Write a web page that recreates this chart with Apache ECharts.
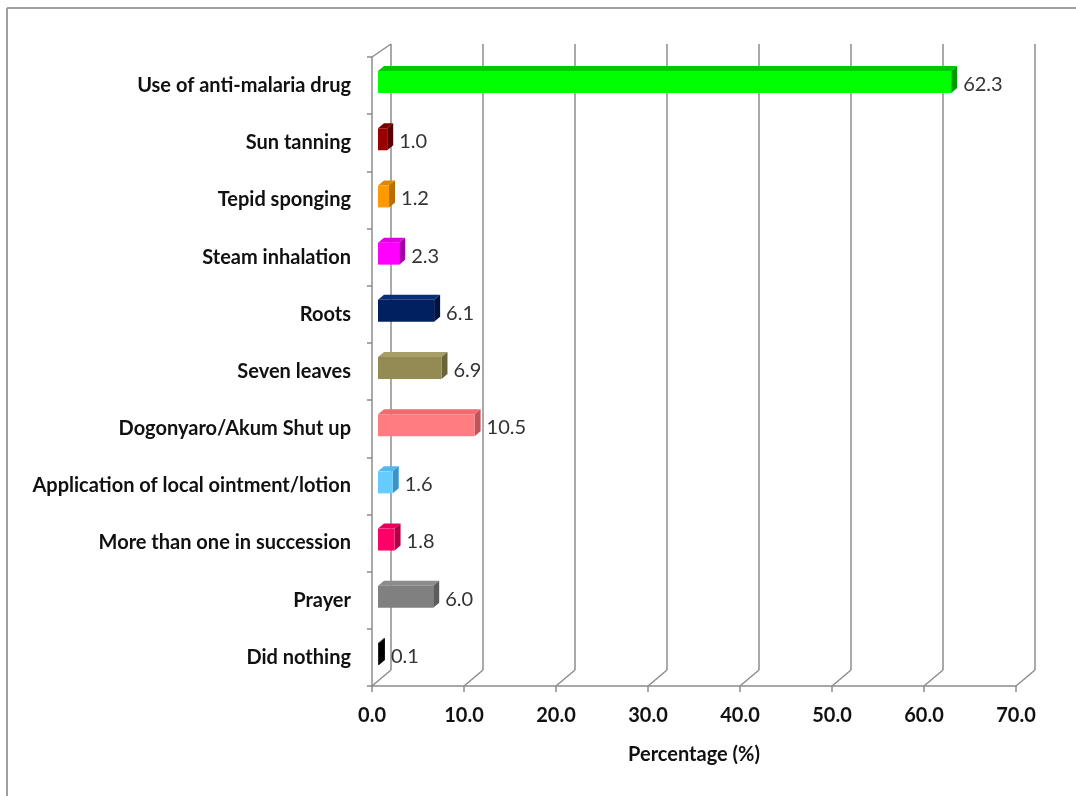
<!doctype html>
<html>
<head>
<meta charset="utf-8">
<title>Percentage chart</title>
<script src="https://cdn.jsdelivr.net/npm/echarts@6/dist/echarts.min.js"></script>
</head>
<body style="margin:0;padding:0;background:#fff;">
<div id="tb" style="width:1076px;height:796px;"></div>
<script>
// categories top to bottom
var categories = ['Use of anti-malaria drug', 'Sun tanning', 'Tepid sponging', 'Steam inhalation', 'Roots',
    'Seven leaves', 'Dogonyaro/Akum Shut up', 'Application of local ointment/lotion',
    'More than one in succession', 'Prayer', 'Did nothing'];
var values = [62.3, 1.0, 1.2, 2.3, 6.1, 6.9, 10.5, 1.6, 1.8, 6.0, 0.1];
var ticks = [0, 10, 20, 30, 40, 50, 60, 70];

// face / top / side colours for every bar
var faceColors = ['#00ff00', '#990000', '#ff9900', '#ff00ff', '#002060', '#948a54', '#ff7c80', '#66ccff', '#ff0066', '#808080', '#222222'];
var topColors  = ['#00c800', '#7a0000', '#e08600', '#e000e0', '#0a2d78', '#a79d66', '#f06a6e', '#52b8ee', '#e6005c', '#8c8c8c', '#333333'];
var sideColors = ['#009a00', '#5a0000', '#b86e00', '#a800a8', '#001440', '#6b6338', '#c05458', '#3a94c8', '#b00048', '#5c5c5c', '#000000'];

var gridColor = '#8c8c8c';
var DX = 19, DYB = -16, DYT = -13; // wall depth
var BD = 6, BDY = -5;               // bar depth

var chart = echarts.init(document.getElementById('tb'));

// bars drawn as boxes
function renderBar(params, api) {
    var v = api.value(0), i = api.value(1);
    var p0 = api.coord([0, i]);
    var p1 = api.coord([v, i]);
    var c = p0[1];
    var x0 = p0[0] + 6, x1 = p1[0] + 6;
    var yt = c - 14.5, yb = c + 7.5;
    return {
        type: 'group',
        children: [
            { type: 'polygon', shape: { points: [[x0, yt], [x0 + BD, yt + BDY], [x1 + BD, yt + BDY], [x1, yt]] },
              style: { fill: topColors[i] } },
            { type: 'polygon', shape: { points: [[x1, yt], [x1 + BD, yt + BDY], [x1 + BD, yb + BDY], [x1, yb]] },
              style: { fill: sideColors[i] } },
            { type: 'rect', shape: { x: x0, y: yt, width: Math.max(x1 - x0, 1), height: yb - yt },
              style: { fill: faceColors[i] } },
            { type: 'text', x: x1 + 12, y: c - 1,
              style: { text: v.toFixed(1), fill: '#333', font: '20px Lato', verticalAlign: 'middle', align: 'left' } }
        ]
    };
}

// diagonal lines joining front axis to back wall
function renderFloor(params, api) {
    var v = api.value(0);
    var cs = params.coordSys;
    var x = api.coord([v, 0])[0];
    var yb = cs.y + cs.height;
    var children = [
        { type: 'line', shape: { x1: x, y1: yb, x2: x + DX, y2: yb + DYB },
          style: { stroke: gridColor, lineWidth: 1.5 } }
    ];
    if (v === 0) {
        children.push({ type: 'line', shape: { x1: x, y1: cs.y, x2: x + DX, y2: cs.y + DYT },
            style: { stroke: gridColor, lineWidth: 1.5 } });
    }
    return { type: 'group', children: children };
}

var barData = values.map(function (v, i) { return [v, i]; });
var tickData = ticks.map(function (t) { return [t, 0]; });

chart.setOption({
    animation: false,
    backgroundColor: '#fff',
    textStyle: { fontFamily: 'Lato' },
    graphic: [
        { type: 'line', shape: { x1: 7, y1: 8, x2: 7, y2: 796 }, style: { stroke: '#a0a0a0', lineWidth: 2 } },
        { type: 'line', shape: { x1: 7, y1: 8, x2: 1076, y2: 8 }, style: { stroke: '#a0a0a0', lineWidth: 2 } }
    ],
    grid: [
        { left: 372, right: 60, top: 57, bottom: 110 },
        { left: 391, right: 41, top: 44, bottom: 126 }
    ],
    xAxis: [{
        type: 'value', gridIndex: 0, min: 0, max: 70, interval: 10,
        axisLine: { show: true, lineStyle: { color: gridColor, width: 1.5 } },
        axisTick: { show: true, length: 6, lineStyle: { color: gridColor, width: 1.5 } },
        splitLine: { show: false },
        axisLabel: { margin: 20, color: '#111', fontWeight: 'bold', fontSize: 20, fontFamily: 'Lato',
            formatter: function (v) { return v.toFixed(1); } },
        name: 'Percentage (%)', nameLocation: 'middle', nameGap: 59,
        nameTextStyle: { color: '#111', fontWeight: 'bold', fontSize: 20, fontFamily: 'Lato' }
    }, {
        type: 'value', gridIndex: 1, min: 0, max: 70, interval: 10,
        axisLine: { show: false }, axisTick: { show: false }, axisLabel: { show: false },
        splitLine: { show: true, lineStyle: { color: gridColor, width: 1.5 } }
    }],
    yAxis: [{
        type: 'category', gridIndex: 0, data: categories, inverse: true,
        axisLine: { show: true, lineStyle: { color: gridColor, width: 1.5 } },
        axisTick: { show: true, length: 5, lineStyle: { color: gridColor, width: 1.5 } },
        axisLabel: { margin: 21, color: '#111', fontWeight: 'bold', fontSize: 20, fontFamily: 'Lato' }
    }, {
        type: 'category', gridIndex: 1, data: categories, inverse: true,
        axisLine: { show: false }, axisTick: { show: false }, axisLabel: { show: false },
        splitLine: { show: false }
    }],
    series: [{
        type: 'custom', xAxisIndex: 0, yAxisIndex: 0, renderItem: renderFloor,
        data: tickData, silent: true, z: 1
    }, {
        type: 'custom', xAxisIndex: 0, yAxisIndex: 0, renderItem: renderBar,
        encode: { x: 0, y: 1 }, data: barData, z: 3
    }]
});
</script>
</body>
</html>
